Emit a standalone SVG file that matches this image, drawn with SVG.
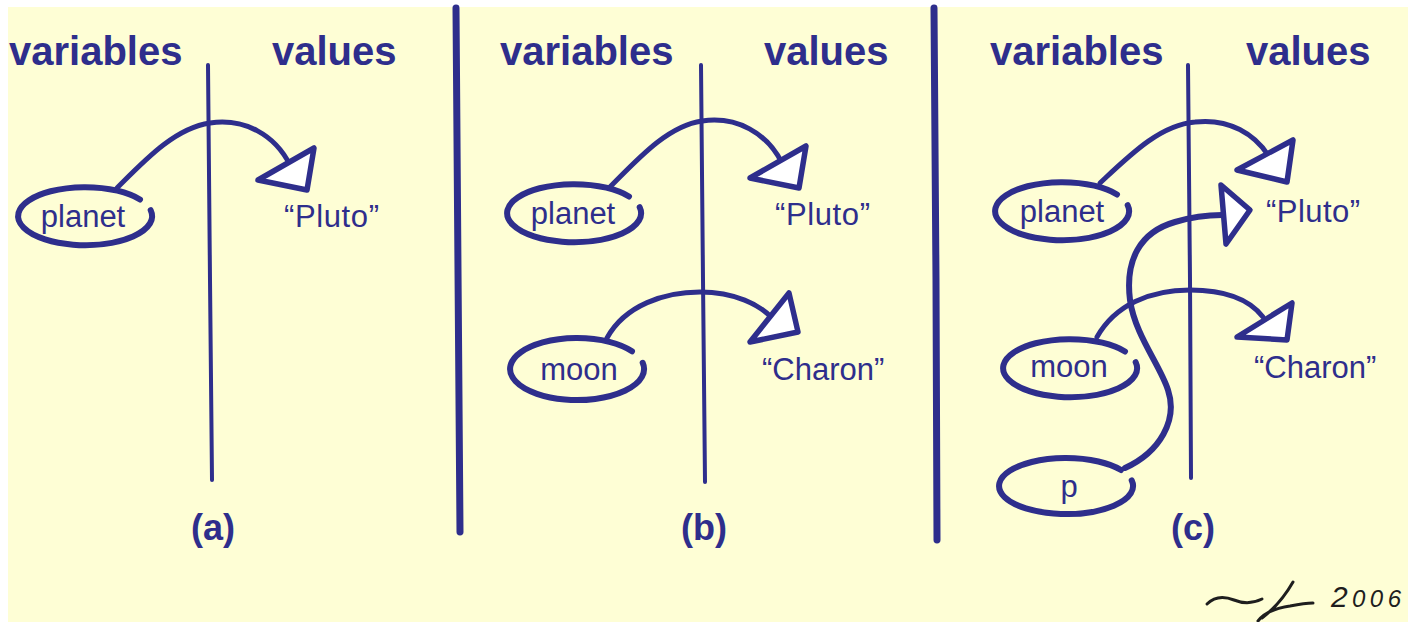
<svg xmlns="http://www.w3.org/2000/svg" width="1408" height="622" viewBox="0 0 1408 622">
<style>
.hd{font-family:"Liberation Sans",Arial,sans-serif;font-weight:bold;font-size:40px;fill:#2e2e8c}
.cap{font-family:"Liberation Sans",Arial,sans-serif;font-weight:bold;font-size:36px;fill:#2e2e8c;text-anchor:middle}
.lb{font-family:"Liberation Sans",Arial,sans-serif;font-size:31px;fill:#2e2e8c}
.mid{text-anchor:middle}
.div{stroke:#2e2e8c;stroke-width:7;stroke-linecap:round;fill:none}
.sep{stroke:#2e2e8c;stroke-width:4;stroke-linecap:round;fill:none}
.ell{stroke:#2e2e8c;stroke-width:6;stroke-linecap:round;fill:none}
.cv{stroke:#2e2e8c;stroke-width:5;stroke-linecap:round;fill:none}
.ah{stroke:#2e2e8c;stroke-width:5.5;stroke-linejoin:round;fill:#ffffff}
.sig{stroke:#1e1e1e;stroke-width:3;stroke-linecap:round;fill:none}
</style>
<rect x="8" y="7" width="1400" height="615" fill="#fefed5"/>

<g id="dividers">
<path class="div" d="M456 8 L458 270 L460 532"/>
<path class="div" d="M934 8 L936 280 L937 540"/>
</g>

<g id="panel-a">
<text class="hd" x="9" y="65">variables</text>
<text class="hd" x="272" y="65">values</text>
<path class="sep" d="M208 65 L210 280 L212 480"/>
<text class="cap" x="213" y="540">(a)</text>
</g>
<g id="panel-b">
<text class="hd" x="500" y="65">variables</text>
<text class="hd" x="764" y="65">values</text>
<path class="sep" d="M701 65 L703 280 L705 482"/>
<text class="cap" x="704" y="540">(b)</text>
</g>
<g id="panel-c">
<text class="hd" x="990" y="65">variables</text>
<text class="hd" x="1246" y="65">values</text>
<path class="sep" d="M1188 65 L1190 280 L1191 478"/>
<text class="cap" x="1193" y="540">(c)</text>
</g>

<g id="a-planet">
<path class="ell" d="M140 199.5 A67 29 0 1 0 150.7 210.2"/>
<text class="lb mid" x="83" y="227">planet</text>
</g>
<g id="a-pluto"><text class="lb" x="284" y="227" textLength="95">“Pluto”</text></g>

<g id="b-planet">
<path class="ell" d="M629 196.5 A67 29 0 1 0 639.7 207.2"/>
<text class="lb mid" x="573" y="224">planet</text>
</g>
<g id="b-pluto"><text class="lb" x="775" y="225" textLength="95">“Pluto”</text></g>
<g id="b-moon">
<path class="ell" d="M632 351.3 A67 31 0 1 0 642.7 362.8"/>
<text class="lb mid" x="579" y="380">moon</text>
</g>
<g id="b-charon"><text class="lb" x="762" y="380">“Charon”</text></g>

<g id="c-planet">
<path class="ell" d="M1117 194.5 A67 29 0 1 0 1127.7 205.2"/>
<text class="lb mid" x="1062" y="222">planet</text>
</g>
<g id="c-pluto"><text class="lb" x="1266" y="222" textLength="94">“Pluto”</text></g>
<g id="c-moon">
<path class="ell" d="M1125 351.5 A67 29 0 1 0 1135.7 362.2"/>
<text class="lb mid" x="1069" y="377">moon</text>
</g>
<g id="c-charon"><text class="lb" x="1254" y="378">“Charon”</text></g>
<g id="c-p">
<path class="ell" d="M1121 470 A67 28 0 1 0 1131.7 480.4"/>
<text class="lb mid" x="1069" y="497">p</text>
</g>

<g id="connectors">
<path class="cv" d="M117 188 C145 160 175 128 210 123 C245 118 275 135 290 165"/>
<polygon class="ah" points="258,180 314,148 307,190"/>

<path class="cv" d="M609 188 C637 160 667 126 702 121 C737 116 767 133 782 163"/>
<polygon class="ah" points="750,178 806,146 799,188"/>

<path class="cv" d="M607 338 C625 305 665 292 700 292 C735 292 760 305 772 318"/>
<polygon class="ah" points="750,342 789,293 798,332"/>

<path class="cv" d="M1100 183 C1130 155 1160 125 1195 122 C1230 118 1255 135 1268 155"/>
<polygon class="ah" points="1237,170 1293,140 1287,182"/>

<path class="cv" d="M1097 337 C1115 305 1150 290 1190 290 C1225 290 1250 300 1263 317"/>
<polygon class="ah" points="1237,337 1292,303 1287,340"/>

<path class="cv" style="stroke-width:6" d="M1125 468 C1160 452 1178 420 1168 390 C1160 365 1135 335 1130 300 C1125 260 1140 232 1175 222 C1195 216 1210 215 1222 215"/>
<polygon class="ah" points="1221,185 1250,210 1226,244"/>
</g>

<g id="signature">
<path class="sig" d="M1207 604 C1214 597 1224 596 1234 600 C1244 604 1252 604 1262 599"/>
<path class="sig" d="M1293 582 C1285 596 1274 609 1262 618 M1258 621 C1265 612 1276 608 1290 606 C1300 604 1308 603 1313 603"/>
<text x="1331" y="607" font-family="Liberation Sans, Arial, sans-serif" font-style="italic" fill="#1e1e1e" textLength="70" lengthAdjust="spacing"><tspan font-size="30">2</tspan><tspan font-size="24">006</tspan></text>
</g>
</svg>
